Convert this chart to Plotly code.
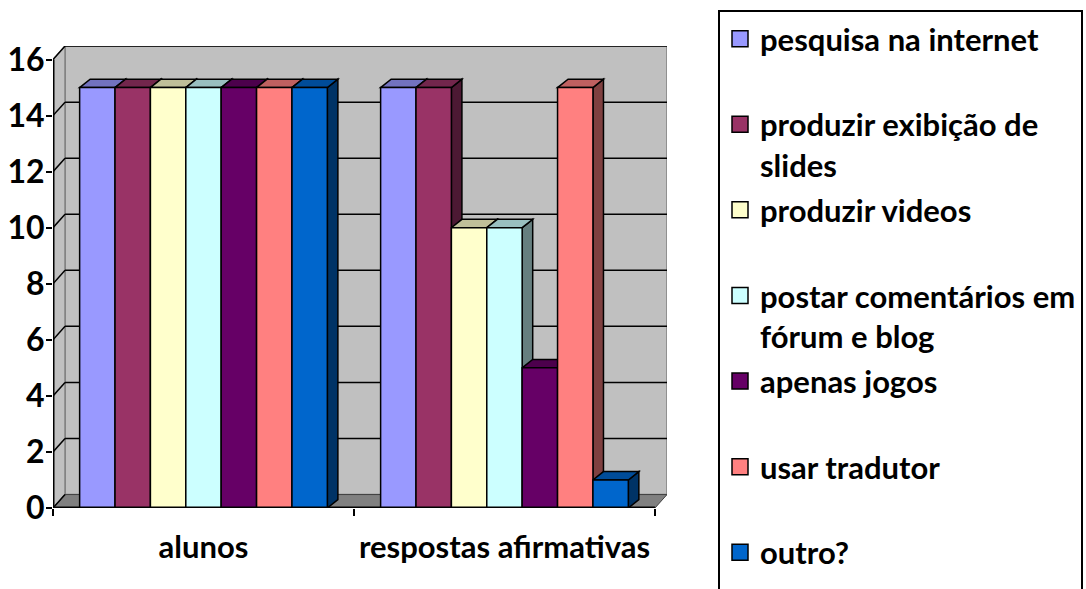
import plotly.graph_objects as go

categories = ["alunos", "respostas afirmativas"]
series_names = [
    "pesquisa na internet<br> ",
    "produzir exibição de<br>slides",
    "produzir videos<br> ",
    "postar comentários em<br>fórum e blog",
    "apenas jogos<br> ",
    "usar tradutor<br> ",
    "outro?<br> ",
]
alunos = [15, 15, 15, 15, 15, 15, 15]
respostas = [15, 15, 10, 10, 5, 15, 1]
colors = ["#9999FF", "#993366", "#FFFFCC", "#CCFFFF", "#660066", "#FF8080", "#0066CC"]
y_ticks = [0, 2, 4, 6, 8, 10, 12, 14, 16]

FONT = "Lato"
W, H = 1086, 589
ML, MT, MB = 53, 46, 81
PLOT_RIGHT = 667
X0, X1 = -0.5, 1.5
DXW = 0.04    # wall depth (x units)
DYW = 0.48    # wall depth (y units)
DXB = 0.035   # bar depth
DYB = 0.30
BARGAP = 0.177
YMAX = 16


def shade(hex_color, f):
    h = hex_color.lstrip("#")
    r, g, b = (int(h[i:i + 2], 16) for i in (0, 2, 4))
    return "#%02x%02x%02x" % (int(r * f), int(g * f), int(b * f))


def poly(pts):
    return "M " + " L ".join(f"{x},{y}" for x, y in pts) + " Z"


fig = go.Figure()
n = len(series_names)
for i, name in enumerate(series_names):
    fig.add_trace(go.Bar(
        x=[0, 1], y=[alunos[i], respostas[i]], name=name, legendgroup=str(i),
        showlegend=False,
        marker=dict(color=colors[i], line=dict(color="black", width=1.5)),
        hoverinfo="skip",
    ))
# legend entries (larger square swatches, like the original)
for i, name in enumerate(series_names):
    fig.add_trace(go.Scatter(
        x=[None], y=[None], mode="markers", name=name, legendgroup=str(i),
        marker=dict(symbol="square", size=17, color=colors[i],
                    line=dict(color="black", width=1.5)),
        hoverinfo="skip",
    ))

shapes = []
# back wall
shapes.append(dict(type="path", xref="x", yref="y", layer="below",
                   path=poly([(X0 + DXW, DYW), (X1 + DXW, DYW), (X1 + DXW, YMAX + DYW), (X0 + DXW, YMAX + DYW)]),
                   fillcolor="#C0C0C0", line=dict(color="#808080", width=1.5)))
# side wall
shapes.append(dict(type="path", xref="x", yref="y", layer="below",
                   path=poly([(X0, 0), (X0 + DXW, DYW), (X0 + DXW, YMAX + DYW), (X0, YMAX)]),
                   fillcolor="#C0C0C0", line=dict(color="#808080", width=1.5)))
# floor
shapes.append(dict(type="path", xref="x", yref="y", layer="below",
                   path=poly([(X0, 0), (X1, 0), (X1 + DXW, DYW), (X0 + DXW, DYW)]),
                   fillcolor="#808080", line=dict(color="#404040", width=1)))
# gridlines on back and side walls
for v in y_ticks[1:]:
    shapes.append(dict(type="line", xref="x", yref="y", layer="below",
                       x0=X0 + DXW, x1=X1 + DXW, y0=v + DYW, y1=v + DYW,
                       line=dict(color="black", width=1.5)))
for v in y_ticks:
    shapes.append(dict(type="line", xref="x", yref="y", layer="below",
                       x0=X0, x1=X0 + DXW, y0=v, y1=v + DYW,
                       line=dict(color="black", width=1.5)))
# front floor edge and axis line
shapes.append(dict(type="line", xref="x", yref="y", layer="above",
                   x0=X0, x1=X1, y0=0, y1=0, line=dict(color="black", width=3)))
shapes.append(dict(type="line", xref="x", yref="y", layer="above",
                   x0=X0, x1=X0, y0=0, y1=YMAX, line=dict(color="black", width=3)))

# 3D bar faces
G = 1 - BARGAP
w = G / n
sides, tops = [], []
for c, vals in enumerate([alunos, respostas]):
    for i in range(n):
        v = vals[i]
        left = c - G / 2 + i * w
        right = left + w
        sides.append(dict(type="path", xref="x", yref="y", layer="below",
                          path=poly([(right, 0), (right + DXB, DYB), (right + DXB, v + DYB), (right, v)]),
                          fillcolor=shade(colors[i], 0.5), line=dict(color="black", width=1.5)))
        tops.append(dict(type="path", xref="x", yref="y", layer="below",
                         path=poly([(left, v), (right, v), (right + DXB, v + DYB), (left + DXB, v + DYB)]),
                         fillcolor=shade(colors[i], 0.75), line=dict(color="black", width=1.5)))
shapes += sides + tops

fig.update_layout(
    width=W, height=H,
    margin=dict(l=ML, r=W - PLOT_RIGHT, t=MT, b=MB),
    paper_bgcolor="white", plot_bgcolor="rgba(0,0,0,0)",
    barmode="group", bargap=BARGAP, bargroupgap=0,
    font=dict(family=FONT, color="black", size=30, weight="bold"),
    shapes=shapes,
    showlegend=True,
    legend=dict(
        xref="container", yref="container", x=718 / W, y=1 - 10 / H,
        xanchor="left", yanchor="top", bgcolor="white",
        bordercolor="black", borderwidth=2, valign="top",
        tracegroupgap=2, maxheight=700,
        font=dict(family=FONT, size=31, weight="bold"),
    ),
    xaxis=dict(
        range=[X0, X1 + DXW], tickvals=[0, 1], ticktext=categories,
        ticks="", showgrid=False, zeroline=False, showline=False,
        automargin=False,
        tickfont=dict(family=FONT, size=31, weight="bold"),
        ticklabelstandoff=18,
        minor=dict(tickvals=[-0.5, 0.5, 1.5], ticks="outside", ticklen=7,
                   tickcolor="black", tickwidth=1.5, showgrid=False),
    ),
    yaxis=dict(
        range=[0, (H - MT - MB) / 28.03], tickvals=y_ticks,
        ticks="outside", ticklen=6, tickcolor="black", tickwidth=1.5,
        showgrid=False, zeroline=False, showline=False,
        automargin=False, ticklabelstandoff=-5,
        tickfont=dict(family=FONT, size=32, weight="bold"),
    ),
)

fig.write_html("out.html", config={"displayModeBar": False},
               post_script="document.body.style.margin='0';")
